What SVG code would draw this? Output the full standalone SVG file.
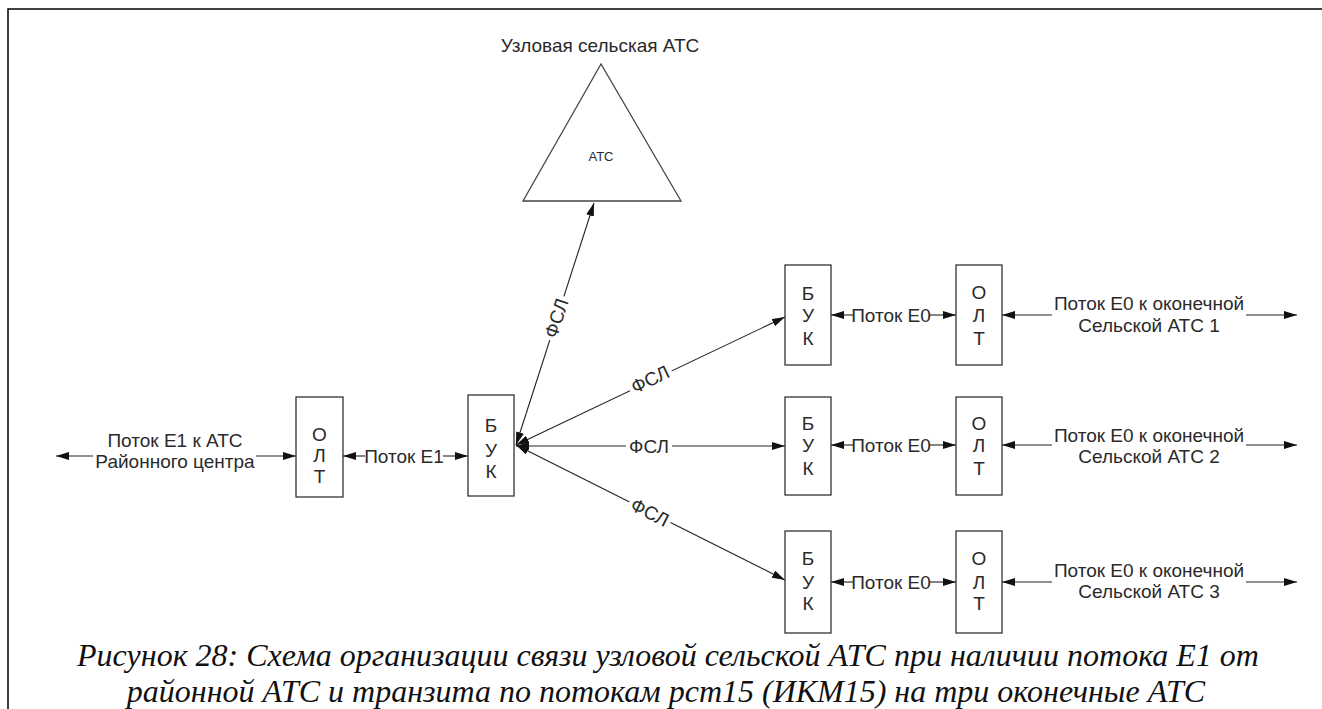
<svg xmlns="http://www.w3.org/2000/svg" width="1322" height="709" viewBox="0 0 1322 709">
<defs>
<marker id="ah" viewBox="0 0 13 8" refX="13" refY="4" markerWidth="13" markerHeight="8" markerUnits="userSpaceOnUse" orient="auto-start-reverse">
<path d="M0,0 L13,4 L0,8 z" fill="#111"/>
</marker>
<style>
.box{fill:#fff;stroke:#333;stroke-width:1.3}
.t{font-family:"Liberation Sans",Arial,sans-serif;font-size:19px;fill:#2a2a2a;text-anchor:middle}
.ln{stroke:#222;stroke-width:1.1;fill:none}
.a{marker-end:url(#ah)}
.b{marker-start:url(#ah);marker-end:url(#ah)}
.bg{fill:#fff}
.cap{font-family:"Liberation Serif","Times New Roman",serif;font-style:italic;font-size:32px;fill:#111;text-anchor:middle}
</style>
</defs>
<rect width="1322" height="709" fill="#fff"/>
<path d="M8,709 V9 H1322" fill="none" stroke="#000" stroke-width="1.5"/>

<g id="connectors">
<line class="ln a" x1="93" y1="456" x2="56" y2="456"/>
<line class="ln a" x1="256" y1="456" x2="296" y2="456"/>
<line class="ln a" x1="365" y1="456" x2="343" y2="456"/>
<line class="ln a" x1="443" y1="456" x2="468" y2="456"/>
<line class="ln b" x1="516" y1="445" x2="594" y2="203"/>
<line class="ln b" x1="516" y1="445" x2="785" y2="317"/>
<line class="ln b" x1="516" y1="446" x2="785" y2="446"/>
<line class="ln b" x1="516" y1="445" x2="785" y2="580"/>
<line class="ln a" x1="853" y1="315" x2="831" y2="315"/>
<line class="ln a" x1="929" y1="315" x2="956" y2="315"/>
<line class="ln a" x1="1052" y1="315" x2="1002" y2="315"/>
<line class="ln a" x1="1246" y1="315" x2="1297" y2="315"/>
<line class="ln a" x1="853" y1="445" x2="831" y2="445"/>
<line class="ln a" x1="929" y1="445" x2="956" y2="445"/>
<line class="ln a" x1="1052" y1="445" x2="1002" y2="445"/>
<line class="ln a" x1="1246" y1="445" x2="1297" y2="445"/>
<line class="ln a" x1="853" y1="582" x2="831" y2="582"/>
<line class="ln a" x1="929" y1="582" x2="956" y2="582"/>
<line class="ln a" x1="1052" y1="582" x2="1002" y2="582"/>
<line class="ln a" x1="1246" y1="582" x2="1297" y2="582"/>
<g transform="translate(556,318) rotate(-72)"><rect class="bg" x="-23" y="-9" width="46" height="18"/><text class="t" x="0" y="7">ФСЛ</text></g>
<g transform="translate(650,379) rotate(-25.4)"><rect class="bg" x="-23" y="-9" width="46" height="18"/><text class="t" x="0" y="7">ФСЛ</text></g>
<g transform="translate(649,446)"><rect class="bg" x="-23" y="-9" width="46" height="18"/><text class="t" x="0" y="7">ФСЛ</text></g>
<g transform="translate(650,512) rotate(26.6)"><rect class="bg" x="-23" y="-9" width="46" height="18"/><text class="t" x="0" y="7">ФСЛ</text></g>
<text class="t" x="175" y="447">Поток Е1 к АТС</text>
<text class="t" x="175" y="468">Районного центра</text>
<text class="t" x="404" y="463">Поток Е1</text>
<text class="t" x="891" y="322">Поток Е0</text>
<text class="t" x="891" y="452">Поток Е0</text>
<text class="t" x="891" y="589">Поток Е0</text>
<text class="t" x="1149" y="310">Поток Е0 к оконечной</text>
<text class="t" x="1149" y="332">Сельской АТС 1</text>
<text class="t" x="1149" y="442">Поток Е0 к оконечной</text>
<text class="t" x="1149" y="463">Сельской АТС 2</text>
<text class="t" x="1149" y="577">Поток Е0 к оконечной</text>
<text class="t" x="1149" y="598">Сельской АТС 3</text>
</g>

<g id="node-atc">
<text class="t" x="600" y="52">Узловая сельская АТС</text>
<polygon points="601,64 523,201 681,201" fill="#fff" stroke="#444" stroke-width="1.3"/>
<text class="t" x="601" y="161" style="font-size:13px">АТС</text>
</g>

<g id="node-olt0">
<rect class="box" x="296" y="397" width="47" height="100"/>
<text class="t" x="319.5" y="441">О</text><text class="t" x="319.5" y="462">Л</text><text class="t" x="319.5" y="482.5">Т</text>
</g>
<g id="node-buk0">
<rect class="box" x="468" y="395" width="46" height="101"/>
<text class="t" x="491" y="432">Б</text><text class="t" x="491" y="456.5">У</text><text class="t" x="491" y="478">К</text>
</g>

<g id="node-buk1">
<rect class="box" x="785" y="265" width="46" height="100"/>
<text class="t" x="808" y="300">Б</text><text class="t" x="808" y="322">У</text><text class="t" x="808" y="345">К</text>
</g>
<g id="node-olt1">
<rect class="box" x="956" y="265" width="46" height="100"/>
<text class="t" x="979" y="298.5">О</text><text class="t" x="979" y="322">Л</text><text class="t" x="979" y="345">Т</text>
</g>
<g id="node-buk2">
<rect class="box" x="785" y="397" width="46" height="98"/>
<text class="t" x="808" y="430">Б</text><text class="t" x="808" y="452">У</text><text class="t" x="808" y="475">К</text>
</g>
<g id="node-olt2">
<rect class="box" x="956" y="397" width="46" height="98"/>
<text class="t" x="979" y="430">О</text><text class="t" x="979" y="452">Л</text><text class="t" x="979" y="475">Т</text>
</g>
<g id="node-buk3">
<rect class="box" x="785" y="531" width="46" height="102"/>
<text class="t" x="808" y="565">Б</text><text class="t" x="808" y="589">У</text><text class="t" x="808" y="610">К</text>
</g>
<g id="node-olt3">
<rect class="box" x="956" y="531" width="46" height="102"/>
<text class="t" x="979" y="565">О</text><text class="t" x="979" y="589">Л</text><text class="t" x="979" y="610">Т</text>
</g>

<g id="caption">
<text class="cap" x="668" y="666">Рисунок 28: Схема организации связи узловой сельской АТС при наличии потока Е1 от</text>
<text class="cap" x="666" y="702">районной АТС и транзита по потокам pcm15 (ИКМ15) на три оконечные АТС</text>
</g>
</svg>
